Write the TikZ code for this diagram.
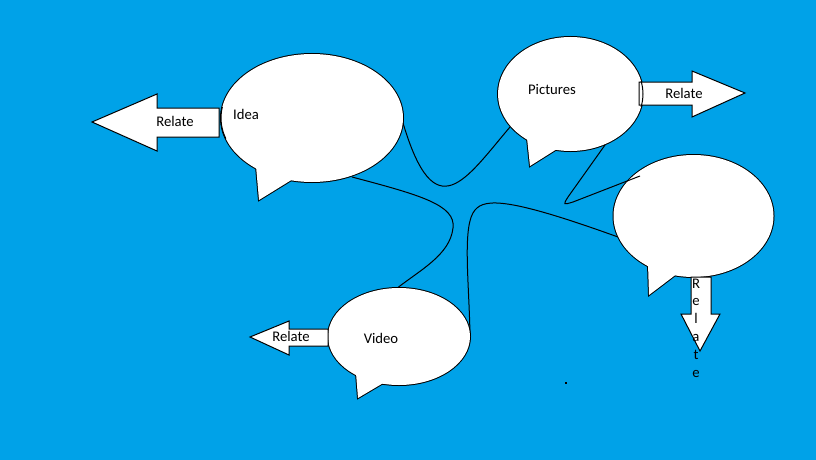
\documentclass[tikz,border=0pt]{standalone}
\usepackage{fontspec}
\setmainfont{Carlito}
\definecolor{bgblue}{RGB}{0,162,232}
\begin{document}
\begin{tikzpicture}[x=1pt,y=-1pt,
  outline/.style={draw=black,line width=2pt,line join=miter},
  conn/.style={draw=black,line width=1pt},
  arrowshape/.style={draw=black,fill=white,line width=1pt,line join=miter},
  lbl/.style={anchor=base,inner sep=0pt,font=\fontsize{14.7}{17}\selectfont,text=black}]
\useasboundingbox (0,0) rectangle (816,460);
\fill[bgblue] (0,0) rectangle (816,460);
% named coordinates
\coordinate (ideaR) at (403,123);
\coordinate (ideaB) at (352,177);
\coordinate (picL) at (510,127);
\coordinate (picB) at (605,145);
\coordinate (vidT) at (396,289);
\coordinate (vidR) at (470,335);
\coordinate (rbL) at (618,237);
\coordinate (rbT) at (640,176);
% connectors
\draw[conn] (ideaR) .. controls (435,230) and (465,180) .. (picL);
\draw[conn] (ideaB) .. controls (420,195) and (456,205) .. (453,228)
                    .. controls (450,255) and (420,270) .. (vidT);
\draw[conn] (vidR) .. controls (469,280) and (462,225) .. (475,210)
                   .. controls (485,198) and (510,198) .. (rbL);
% bubbles (union outline trick)
\newcommand{\bubble}[5]{%
  \draw[outline] #1 ellipse [x radius=#2pt, y radius=#3pt];
  \draw[outline] #4 -- cycle;
  \fill[white] #1 ellipse [x radius=#2pt, y radius=#3pt];
  \fill[white] #4 -- cycle;}
\bubble{(312,118)}{91}{64}{(256,166) -- (259,200) -- (293,179)}{}
\bubble{(570.5,94)}{72.5}{57}{(527,138) -- (530,166) -- (557,149)}{}
\bubble{(693.5,216)}{80}{61}{(648,264) -- (649,295) -- (678,273)}{}
\bubble{(399,336.5)}{71}{48.5}{(356,373) -- (358,398) -- (385,382)}{}
% connector that runs into the right bubble
\draw[conn] (picB) -- (568,197) .. controls (563,205) .. (573,202) -- (rbT);
% arrows
\draw[arrowshape] (219,108) -- (157,108) -- (157,94) -- (92,122) -- (157,151) -- (157,137) -- (219,137) -- cycle;
\draw[arrowshape] (639,82) -- (692,82) -- (692,71) -- (745,93) -- (692,117) -- (692,105) -- (639,105) -- cycle;
\draw[arrowshape] (328,329) -- (289,329) -- (289,321) -- (250,337) -- (289,355) -- (289,346) -- (328,346) -- cycle;
\draw[arrowshape] (691,277) -- (691,314) -- (681,314) -- (700,351) -- (720,314) -- (711,314) -- (711,277) -- cycle;
% bubble edges visible through arrow ends
\begin{scope}
  \clip (638,81) rectangle (650,106);
  \draw[line width=1pt] (570.5,94) ellipse [x radius=72.5pt, y radius=57pt];
\end{scope}
\begin{scope}
  \clip (218,107) rectangle (226,138);
  \draw[line width=1pt] (312,118) ellipse [x radius=91pt, y radius=64pt];
\end{scope}
% texts
\node[lbl] (tIdea) at (246,119) {Idea};
\node[lbl] (tPic) at (552,94) {Pictures};
\node[lbl] (tVid) at (381,343) {Video};
\node[lbl] (r1) at (175,126) {Relate};
\node[lbl] (r2) at (684,98) {Relate};
\node[lbl] (r3) at (291,341) {Relate};
\node[lbl] (v1) at (696,288) {R};
\node[lbl] (v2) at (696,305.7) {e};
\node[lbl] (v3) at (696,323.5) {l};
\node[lbl] (v4) at (696,341.3) {a};
\node[lbl] (v5) at (696,359) {t};
\node[lbl] (v6) at (696,377) {e};
% stray speck
\fill[black] (564.5,381.5) rectangle (566.5,383.5);
\end{tikzpicture}
\end{document}
